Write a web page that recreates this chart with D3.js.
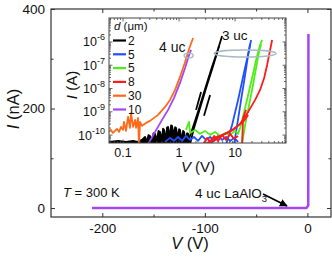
<!DOCTYPE html>
<html><head><meta charset="utf-8">
<script src="https://cdn.jsdelivr.net/npm/d3@7"></script>
<style>
body{margin:0;background:#fff}
svg{display:block}
text{font-family:"Liberation Sans",Arial,sans-serif;fill:#111}
</style>
</head><body>
<svg id="c" width="332" height="258"></svg>
<script>
// ---------- main panel data ----------
const mainV = [-210, -1, 0.8, 1];
const mainI = [0, 0, 5, 350];
const mainXTicks = [-200, -100, 0];
const mainXMinor = [-150, -50];
const mainYTicks = [0, 200, 400];
const mainYMinor = [100, 300];

// ---------- inset data (V in volts, I in amps) ----------
const legendLabels = ["2", "5", "5", "8", "30", "10"];
const legendColors = ["#000000", "#1f4fff", "#4ded15", "#ff1a1a", "#ff6a1a", "#a347f5"];
const insetXTicks = [0.1, 1, 10];
const insetXTickLabels = ["0.1", "1", "10"];
const insetYTicks = [1e-10, 1e-9, 1e-8, 1e-7, 1e-6];
const insetYExp = ["-10", "-9", "-8", "-7", "-6"];

// d = 2 um (black)
const blackNoiseV = [0.056,0.082,0.113,0.151,0.185,0.218,0.247,0.258,0.268,0.285,0.303,0.316,0.330,0.350,0.373,0.390,0.405,0.430,0.458,0.477,0.497,0.518,0.540,0.562,0.586,0.610,0.637,0.662,0.690,0.720,0.750,0.780,0.814,0.850,0.884,0.920,0.960,1.00,1.04,1.08,1.13,1.18,1.23,1.28,1.33,1.39,1.45,1.51,1.57];
const blackNoiseI = [5.1e-11,5.6e-11,5.1e-11,5.6e-11,5.1e-11,6.2e-11,8.4e-11,6.2e-11,5.6e-11,1.0e-10,9.2e-11,6.0e-11,6.2e-11,1.2e-10,1.13e-10,7.0e-11,6.9e-11,1.5e-10,1.37e-10,8.0e-11,7.6e-11,1.9e-10,1.67e-10,9.0e-11,8.4e-11,2.1e-10,2.25e-10,1.1e-10,1.02e-10,2.6e-10,2.48e-10,1.3e-10,1.24e-10,2.2e-10,2.04e-10,1.0e-10,9.2e-11,1.8e-10,1.67e-10,8.0e-11,7.6e-11,1.5e-10,1.37e-10,7.0e-11,6.9e-11,1.2e-10,1.13e-10,6.0e-11,5.6e-11];
const blackUp1V = [1.39,1.71,2.18,2.91,3.88,4.97,5.86];
const blackUp1I = [4e-11,1.67e-10,9.9e-10,9.6e-9,8.5e-8,5.0e-7,1.81e-6];
const blackUp2V = [1.57,1.85,2.37,3.16,4.05,5.18];
const blackUp2I = [4e-11,2.04e-10,1.47e-9,1.43e-8,9.3e-8,6.7e-7];
const blackDash1V = [2.01,2.47], blackDash1I = [1.21e-9,7.1e-9];
const blackDash2V = [2.79,3.58], blackDash2I = [6.7e-10,5.3e-9];

// d = 5 um (blue)
const blueNoiseV = [0.562,0.690,0.814,0.960,1.13,1.33,1.57,1.85,2.18,2.57,3.03,3.58,4.22,4.97,5.86,6.91,8.14,9.60,11.3];
const blueNoiseI = [5.1e-11,7.6e-11,5.6e-11,8.4e-11,5.6e-11,9.2e-11,6.2e-11,8.4e-11,5.6e-11,9.2e-11,6.2e-11,8.4e-11,5.6e-11,9.2e-11,6.2e-11,8.4e-11,5.6e-11,7.6e-11,5.1e-11];
const blueUpAV = [6.91,8.84,11.3,14.5,17.8,19.3];
const blueUpAI = [4e-11,2.74e-10,3.24e-9,5.15e-8,4.54e-7,1.22e-6];
const blueUpBV = [9.60,10.9,12.8,15.1,17.1,18.5];
const blueUpBI = [4e-11,2.74e-10,3.24e-9,3.84e-8,2.77e-7,8.2e-7];

// d = 5 um (green)
const greenNoiseV = [1.33,1.51,1.57,1.93,2.37,2.91,3.58,4.39,5.40,6.63,8.14,10.0,11.3,12.3];
const greenNoiseI = [1.67e-10,3.69e-10,1.24e-10,1.67e-10,1.13e-10,1.51e-10,1.02e-10,1.37e-10,9.2e-11,1.24e-10,1.02e-10,1.51e-10,1.13e-10,2.04e-10];
const greenUpAV = [12.3,14.5,17.1,20.1,23.7,27.9,30.3];
const greenUpAI = [2.04e-10,9.9e-10,5.3e-9,2.85e-8,1.69e-7,7.4e-7,1.22e-6];
const greenUpBV = [13.3,15.1,17.8,20.9,23.7,26.8,29.1];
const greenUpBI = [4e-11,2.74e-10,1.98e-9,1.43e-8,7.66e-8,3.73e-7,8.2e-7];

// d = 8 um (red)
const redNoiseV = [2.68,3.16,3.58,4.22,4.97,5.86,6.91,8.14,9.60,11.3];
const redNoiseI = [4e-11,7.6e-11,5.1e-11,9.2e-11,5.6e-11,1.02e-10,6.2e-11,1.13e-10,6.9e-11,9.2e-11];
const redAV = [2.91,4.39,6.63,9.21,12.3,17.1,22.8,27.9,33.0,37.3,42.2,45.8];
const redAI = [4e-11,7.6e-11,1.13e-10,1.67e-10,3.03e-10,9.9e-10,3.24e-9,8.71e-9,2.85e-8,1.03e-7,4.54e-7,1.22e-6];
const redBV = [3.30,5.40,8.84,13.9,17.1];
const redBI = [4e-11,8.4e-11,1.67e-10,3.69e-10,7.36e-10];
const redCV = [13.3,13.9,15.7];
const redCI = [4e-11,5.47e-10,1.21e-9];

// d = 30 um (orange)
const orangeV = [0.056,0.061,0.066,0.072,0.078,0.085,0.092,0.100,0.104,0.113,0.123,0.133,0.139,0.151,0.164,0.171,0.185,0.193,0.201,0.218,0.228,0.257,0.303,0.422,0.562,0.690,0.849,1.04,1.28,1.51,1.78];
const orangeI = [1.37e-10,1.67e-10,1.24e-10,1.51e-10,1.85e-10,1.37e-10,2.25e-10,1.67e-10,3.69e-10,1.51e-10,6.04e-10,2.04e-10,8.97e-10,2.25e-10,4.49e-10,2.04e-10,5.47e-10,3e-11,3.69e-10,2.48e-10,2.74e-10,3.34e-10,4.07e-10,7.36e-10,1.62e-9,3.24e-9,8.71e-9,3.15e-8,1.39e-7,5.0e-7,1.49e-6];

// d = 10 um (purple)
const purpleV = [0.279,0.373,0.497,0.637,0.814,1.04,1.28,1.51,1.64];
const purpleI = [4e-11,1.37e-10,4.49e-10,1.21e-9,3.95e-9,1.74e-8,7.66e-8,2.77e-7,4.54e-7];

// ellipse annotations (centre V, centre I)
const ellipseSmall = [1.48, 2.6e-7];
const ellipseBig = [15.1, 3.2e-7];

// ---------- drawing ----------
const zip = (a, b) => a.map((v, i) => [v, b[i]]);
const series = [
  {c: legendColors[0], b: [zip(blackNoiseV, blackNoiseI), zip(blackUp1V, blackUp1I), zip(blackUp2V, blackUp2I), zip(blackDash1V, blackDash1I), zip(blackDash2V, blackDash2I)], fillFirst: true},
  {c: legendColors[1], b: [zip(blueNoiseV, blueNoiseI), zip(blueUpAV, blueUpAI), zip(blueUpBV, blueUpBI)]},
  {c: legendColors[2], b: [zip(greenNoiseV, greenNoiseI), zip(greenUpAV, greenUpAI), zip(greenUpBV, greenUpBI)]},
  {c: legendColors[3], b: [zip(redNoiseV, redNoiseI), zip(redAV, redAI), zip(redBV, redBI), zip(redCV, redCI)]},
  {c: legendColors[4], b: [zip(orangeV, orangeI)]},
  {c: legendColors[5], b: [zip(purpleV, purpleI)]}
];

const svg = d3.select("#c");
const L = 51, R = 331, T = 9, B = 217;
const x = d3.scaleLinear().domain([-250, 23]).range([L, R]);
const y = d3.scaleLinear().domain([-18, 400]).range([B, T]);
const axisCol = "#333";

function styleAxis(g) {
  g.select(".domain").remove();
  g.selectAll("line").attr("stroke", axisCol).attr("stroke-width", 1);
  g.selectAll("text").attr("fill", "#111").style("font-size", "13.5px").style("font-family", '"Liberation Sans",Arial,sans-serif');
}
const fmt = d => String(d);
svg.append("g").attr("transform", `translate(0,${B})`).call(d3.axisBottom(x).tickValues(mainXTicks).tickSizeInner(-4).tickSizeOuter(0).tickPadding(6).tickFormat(fmt)).call(styleAxis);
svg.append("g").attr("transform", `translate(0,${B})`).call(d3.axisBottom(x).tickValues(mainXMinor).tickSizeInner(-2.5).tickSizeOuter(0).tickFormat("")).call(styleAxis);
svg.append("g").attr("transform", `translate(0,${T})`).call(d3.axisTop(x).tickValues(mainXTicks).tickSizeInner(-4).tickSizeOuter(0).tickFormat("")).call(styleAxis);
svg.append("g").attr("transform", `translate(0,${T})`).call(d3.axisTop(x).tickValues(mainXMinor).tickSizeInner(-2.5).tickSizeOuter(0).tickFormat("")).call(styleAxis);
svg.append("g").attr("transform", `translate(${L},0)`).call(d3.axisLeft(y).tickValues(mainYTicks).tickSizeInner(-4).tickSizeOuter(0).tickPadding(6).tickFormat(fmt)).call(styleAxis);
svg.append("g").attr("transform", `translate(${L},0)`).call(d3.axisLeft(y).tickValues(mainYMinor).tickSizeInner(-2.5).tickSizeOuter(0).tickFormat("")).call(styleAxis);
svg.append("g").attr("transform", `translate(${R},0)`).call(d3.axisRight(y).tickValues(mainYTicks).tickSizeInner(-4).tickSizeOuter(0).tickFormat("")).call(styleAxis);
svg.append("g").attr("transform", `translate(${R},0)`).call(d3.axisRight(y).tickValues(mainYMinor).tickSizeInner(-2.5).tickSizeOuter(0).tickFormat("")).call(styleAxis);
svg.append("rect").attr("x", L).attr("y", T).attr("width", R - L).attr("height", B - T).attr("fill", "none").attr("stroke", axisCol).attr("stroke-width", 1.2);

// main line
svg.append("path").datum(zip(mainV, mainI))
  .attr("d", d3.line().x(d => x(d[0])).y(d => y(d[1])))
  .attr("fill", "none").attr("stroke", legendColors[5]).attr("stroke-width", 2.5);

// main titles
svg.append("text").attr("x", 190).attr("y", 249).attr("text-anchor", "middle").style("font-size", "16.5px")
  .html('<tspan font-style="italic">V</tspan> (V)');
svg.append("text").attr("transform", "translate(19,109) rotate(-90)").attr("text-anchor", "middle").style("font-size", "16.5px")
  .html('<tspan font-style="italic">I</tspan> (nA)');
svg.append("text").attr("x", 63).attr("y", 197).style("font-size", "13px")
  .html('<tspan font-style="italic">T</tspan> = 300 K');
svg.append("text").attr("x", 195).attr("y", 198).style("font-size", "13.5px")
  .html('4 uc LaAlO<tspan dy="4" font-size="9.5px">3</tspan>');

// arrow
svg.append("defs").append("marker").attr("id", "ah").attr("viewBox", "0 0 10 10").attr("refX", 9).attr("refY", 5)
  .attr("markerWidth", 5).attr("markerHeight", 5).attr("orient", "auto")
  .append("path").attr("d", "M0,0L10,5L0,10z").attr("fill", "#000");
svg.append("line").attr("x1", x(-43.3)).attr("y1", y(28.2)).attr("x2", x(-19.9)).attr("y2", y(4.1))
  .attr("stroke", "#000").attr("stroke-width", 1.6).attr("marker-end", "url(#ah)");

// ---------- inset ----------
const iL = 109, iR = 286, iT = 18, iB = 143;
const xi = d3.scaleLog().domain([0.0562, 81]).range([iL, iR]);
const yi = d3.scaleLog().domain([4.57e-11, 1.07e-5]).range([iB, iT]);
svg.append("rect").attr("x", iL).attr("y", iT).attr("width", iR - iL).attr("height", iB - iT).attr("fill", "#fff");
svg.append("clipPath").attr("id", "ic").append("rect").attr("x", iL).attr("y", iT).attr("width", iR - iL).attr("height", iB - iT);

const ig = svg.append("g").attr("clip-path", "url(#ic)");
const iline = d3.line().x(d => xi(d[0])).y(d => yi(d[1]));
const iarea = d3.area().x(d => xi(d[0])).y0(iB).y1(d => yi(d[1]));
series.forEach(s => {
  s.b.forEach((br, k) => {
    if (s.fillFirst && k === 0) {
      ig.append("path").datum(br).attr("d", iarea).attr("fill", s.c);
    }
    ig.append("path").datum(br).attr("d", iline).attr("fill", "none").attr("stroke", s.c)
      .attr("stroke-width", 1.8).attr("stroke-linejoin", "round");
  });
});

// ellipses
[[ellipseSmall, 4.5, 2.5], [ellipseBig, 31, 3.5]].forEach(([c, rx, ry]) => {
  svg.append("ellipse").attr("cx", xi(c[0])).attr("cy", yi(c[1])).attr("rx", rx).attr("ry", ry)
    .attr("fill", "none").attr("stroke", "#a8bac6").attr("stroke-width", 1.4);
});

// inset ticks
const minorX = [];
[0.01, 0.1, 1, 10].forEach(dec => { for (let k = 2; k <= 9; k++) { const v = dec * k; if (v > 0.0562 && v < 81) minorX.push(v); } });
const minorY = [];
[1e-11, 1e-10, 1e-9, 1e-8, 1e-7, 1e-6].forEach(dec => { for (let k = 2; k <= 9; k++) { const v = dec * k; if (v > 4.57e-11 && v < 1.07e-5) minorY.push(v); } });
const itk = svg.append("g").attr("stroke", "#444").attr("stroke-width", 0.8);
insetXTicks.forEach(v => {
  itk.append("line").attr("x1", xi(v)).attr("x2", xi(v)).attr("y1", iB).attr("y2", iB - 3.5);
  itk.append("line").attr("x1", xi(v)).attr("x2", xi(v)).attr("y1", iT).attr("y2", iT + 3.5);
});
minorX.forEach(v => {
  itk.append("line").attr("x1", xi(v)).attr("x2", xi(v)).attr("y1", iB).attr("y2", iB - 2);
  itk.append("line").attr("x1", xi(v)).attr("x2", xi(v)).attr("y1", iT).attr("y2", iT + 2);
});
insetYTicks.forEach(v => {
  itk.append("line").attr("y1", yi(v)).attr("y2", yi(v)).attr("x1", iL).attr("x2", iL + 3.5);
  itk.append("line").attr("y1", yi(v)).attr("y2", yi(v)).attr("x1", iR).attr("x2", iR - 3.5);
});
minorY.forEach(v => {
  itk.append("line").attr("y1", yi(v)).attr("y2", yi(v)).attr("x1", iL).attr("x2", iL + 2);
  itk.append("line").attr("y1", yi(v)).attr("y2", yi(v)).attr("x1", iR).attr("x2", iR - 2);
});
svg.append("rect").attr("x", iL).attr("y", iT).attr("width", iR - iL).attr("height", iB - iT)
  .attr("fill", "none").attr("stroke", "#444").attr("stroke-width", 1);

// inset tick labels
insetXTicks.forEach((v, i) => {
  svg.append("text").attr("x", xi(v)).attr("y", 157).attr("text-anchor", "middle").style("font-size", "12.5px").text(insetXTickLabels[i]);
});
insetYTicks.forEach((v, i) => {
  svg.append("text").attr("x", 105).attr("y", yi(v) + 4.5).attr("text-anchor", "end").style("font-size", "12.5px")
    .html(`10<tspan dy="-6" font-size="9px">${insetYExp[i]}</tspan>`);
});
svg.append("text").attr("x", 198).attr("y", 172).attr("text-anchor", "middle").style("font-size", "15px")
  .html('<tspan font-style="italic">V</tspan> (V)');
svg.append("text").attr("transform", "translate(77,85) rotate(-90)").attr("text-anchor", "middle").style("font-size", "15px")
  .html('<tspan font-style="italic">I</tspan> (A)');

// inset annotations
svg.append("text").attr("x", 159).attr("y", 52).style("font-size", "14px").text("4 uc");
svg.append("text").attr("x", 222).attr("y", 40).style("font-size", "13.5px").text("3 uc");

// legend
svg.append("text").attr("x", 114).attr("y", 30).style("font-size", "11.5px")
  .html('<tspan font-style="italic">d</tspan> (μm)');
legendLabels.forEach((lab, i) => {
  const cy = 40.5 + i * 13.8;
  svg.append("line").attr("x1", 113).attr("x2", 126).attr("y1", cy).attr("y2", cy).attr("stroke", legendColors[i]).attr("stroke-width", 2.2);
  svg.append("text").attr("x", 128).attr("y", cy + 4.2).style("font-size", "12px").text(lab);
});
</script>
</body></html>
